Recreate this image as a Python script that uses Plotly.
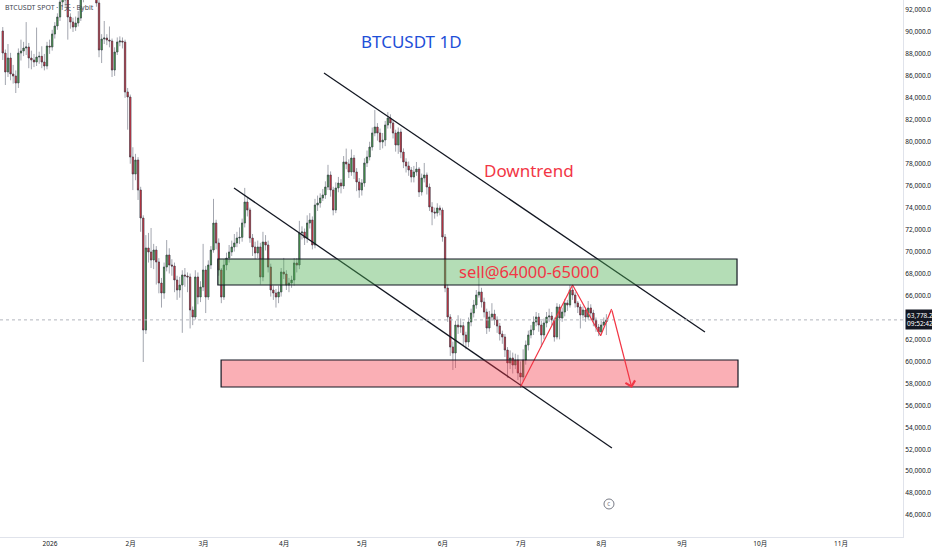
import pandas as pd
import plotly.graph_objects as go

# Daily BTCUSDT candles, 2025-12-15 .. 2026-08-04
start_date = "2025-12-15"
first_open = 90088

closes = [
    88084, 86354, 87629, 86172, 85990, 85352, 88084, 88266, 88540, 88631, 87629, 87447, 87265, 87720, 87780, 87265, 86900,
    88722, 88631, 89815, 90543, 91363, 92729, 93640, 92911, 91363, 90907,
    90452, 90816, 91272, 93093, 94732, 95643, 95188, 96100, 95643, 92638,
    88357, 89359, 89450, 89268, 89177, 86536, 88175, 89086, 89177, 89086,
    84533, 84077, 78613, 77065, 78340, 75608, 73058, 62858, 70326, 69961,
    69233, 70143, 69051, 67138, 66227, 68595, 69688, 68777, 68686, 67411,
    66501, 66956, 67867, 67776, 67685, 64679, 64042, 67685, 65863, 66774,
    68322, 65863, 68777, 70143, 72602, 70781, 68322, 65863, 68777, 69415,
    69961, 70417, 70781, 71236, 71300, 72602, 74515, 73786, 71236, 70417,
    69870, 70417, 67685, 70872, 70600, 68595, 66501, 66227, 65863, 66319,
    68140, 67958, 66956, 67138, 67411, 68960, 68777, 71692, 71783, 71236,
    72602, 72876, 70600, 74242, 74424, 74879, 75153, 75881, 76974, 75608,
    73786, 75790, 76245, 75972, 78158, 77976, 77247, 78522, 77247, 76336,
    75608, 76245, 78067, 78613, 79524, 80799, 81345, 80799, 79979, 80160,
    81527, 82165, 81709, 80799, 79706, 80890, 79068, 78158, 77793, 77429,
    76792, 77247, 77520, 75426, 76701, 76974, 75881, 74060, 73604, 73513,
    73969, 73786, 71327, 66683, 64042, 61310, 60763, 63313, 63131, 63250,
    62403, 61765, 63586, 64406, 65135, 66045, 66319, 65408, 64497, 63040,
    64042, 64315, 63769, 63222, 62494, 62221, 61036, 59853, 60308, 59670,
    60125, 58942, 58578, 60125, 61492, 62403, 62858, 63586, 64042, 63313,
    62403, 63495, 64042, 64133, 63769, 62221, 64953, 63951, 64497, 65317,
    65135, 66501, 66045, 65317, 64953, 64224, 64679, 64042, 64862, 64406,
    63769, 63131, 62676, 63313, 63586, 63778.2,
]

highs = [
    90450, 88400, 88900, 88100, 87000, 86500, 88500, 89300, 89100, 90900, 89000, 88300, 88000, 90400, 88200, 88700, 88000,
    89100, 89300, 90200, 90900, 91700, 93100, 94200, 94100, 93000, 91700,
    91300, 91400, 91900, 93600, 95300, 96300, 96400, 96800, 96500, 95900,
    92900, 89800, 91000, 89800, 90500, 89400, 88600, 89500, 89600, 89500,
    89300, 84900, 84300, 79500, 78900, 78600, 75900, 73300, 71500, 71700,
    72150, 70700, 70500, 69400, 67600, 69000, 71050, 70300, 69300, 69000,
    67800, 67700, 68300, 68500, 68100, 68000, 65000, 68300, 68100, 67300,
    70700, 68700, 69200, 70500, 74800, 72900, 71200, 68500, 69300, 69900,
    70600, 71000, 71600, 71800, 72200, 73000, 75800, 74900, 74000, 71600,
    70900, 71000, 70800, 71800, 71500, 71000, 68900, 66900, 66600, 66900,
    68500, 69420, 68300, 67600, 67800, 69400, 69400, 72800, 72300, 72100,
    73300, 73500, 73200, 74800, 75100, 75300, 75700, 76400, 77900, 77300,
    75900, 76300, 76800, 76600, 78700, 79380, 78400, 79300, 78800, 77600,
    76700, 76600, 78500, 79200, 80000, 81300, 82900, 81700, 81200, 80800,
    81900, 82700, 82500, 82000, 81100, 81300, 81200, 79400, 78500, 78200,
    77700, 77800, 78160, 77700, 77100, 78070, 77200, 76200, 74500, 74000,
    74400, 74200, 74000, 71600, 67000, 64300, 61800, 63700, 64200, 63900,
    63600, 62700, 64000, 64800, 65600, 66500, 68050, 66700, 65800, 64800,
    64600, 65300, 64700, 64100, 63500, 62800, 62500, 61300, 61000, 60800,
    60700, 60600, 60000, 61100, 61900, 62800, 63300, 64100, 64500, 64400,
    63700, 63900, 64500, 64800, 64500, 64000, 65300, 65200, 64900, 65700,
    65600, 66950, 66800, 66300, 65500, 65200, 65000, 64900, 65500, 65200,
    64700, 64000, 63400, 63700, 64000, 64300,
]

lows = [
    87450, 85170, 85900, 85600, 85300, 84440, 84900, 87400, 87800, 87900, 86700, 86600, 86800, 86900, 87100, 86700, 86500,
    86600, 88000, 88300, 89400, 90200, 91000, 92300, 92300, 89300, 90300,
    90000, 90100, 90500, 91000, 92700, 94300, 94700, 94900, 94800, 92300,
    87700, 87170, 88900, 88800, 88600, 85900, 86000, 87900, 88700, 88500,
    84000, 81100, 78000, 75600, 76500, 74700, 71800, 59944, 62500, 69000,
    68500, 68400, 67000, 66200, 64900, 65700, 68200, 68000, 67800, 66300,
    65600, 65800, 62600, 66800, 66300, 63000, 63300, 63800, 65200, 65400,
    66400, 64400, 65600, 68400, 69900, 70200, 67800, 65300, 65600, 68300,
    69000, 69600, 70000, 70400, 70700, 70900, 72200, 73200, 70800, 69600,
    69300, 69400, 67000, 67300, 70100, 68100, 65900, 65600, 64900, 65300,
    65900, 67500, 66500, 66300, 66700, 66900, 68100, 68400, 71100, 70600,
    70800, 72100, 70200, 70300, 73700, 74000, 74600, 74800, 75600, 75000,
    73300, 73500, 75400, 75300, 75700, 77500, 76700, 76900, 76600, 75500,
    74900, 75100, 75900, 77700, 78300, 79200, 80500, 80100, 79250, 79400,
    79600, 81200, 81200, 80300, 79100, 78900, 78500, 77600, 77200, 76900,
    76300, 76300, 76900, 74970, 75100, 76300, 75200, 73700, 72400, 73000,
    73200, 73300, 70900, 66300, 63600, 60500, 59220, 59400, 62500, 62600,
    61500, 61100, 61300, 63200, 64000, 64800, 65800, 64900, 64000, 62500,
    62700, 63700, 63300, 62600, 61900, 61600, 60400, 58500, 59300, 58900,
    59300, 58300, 57600, 58200, 59700, 61000, 62100, 62400, 63200, 62700,
    61300, 62000, 63100, 63600, 63300, 61800, 62000, 62000, 63600, 64100,
    64600, 64900, 65600, 64900, 64400, 63000, 63900, 63600, 63800, 64000,
    63200, 62700, 62300, 62500, 63200, 62400,
]

# each bar opens where the previous one closed
opens = [first_open] + closes[:-1]
dates = pd.date_range(start=start_date, periods=len(closes), freq="D")

last_price = closes[-1]
last_price_text = "63,778.2<br>09:52:42"

# Drawings
sell_zone = [66955, 69323]
sell_zone_dates = ["2026-03-07 16:00", "2026-09-23 05:00"]
buy_zone = [57667, 60125]
buy_zone_dates = ["2026-03-08 22:00", "2026-09-23 14:00"]

upper_line_dates = ["2026-04-17 11:00", "2026-09-10 21:00"]
upper_line_prices = [86263, 62676]
lower_line_dates = ["2026-03-13 21:00", "2026-08-06 03:00"]
lower_line_prices = [75790, 52112]

path_dates = ["2026-07-02", "2026-07-22", "2026-08-01 19:00", "2026-08-06"]
path_prices = [57694, 66955, 62338, 64770]
arrow_tip_date = "2026-08-13 19:00"
arrow_tip_price = 57576

month_ticks = ["2026-01-01", "2026-02-01", "2026-03-01", "2026-04-01", "2026-05-01", "2026-06-01",
               "2026-07-01", "2026-08-01", "2026-09-01", "2026-10-01", "2026-11-01"]
month_labels = ["2026", "2月", "3月", "4月", "5月", "6月", "7月", "8月", "9月", "10月", "11月"]

# price scale labels (64,000 sits under the last-price tag)
price_ticks = [46000, 48000, 50000, 52000, 54000, 56000, 58000, 60000, 62000, 66000, 68000,
               70000, 72000, 74000, 76000, 78000, 80000, 82000, 84000, 86000, 88000, 90000, 92000]

x_range = ["2025-12-13 22:30", "2026-11-26 00:00"]
y_range = [44006, 92911]

GREEN = "#4caf50"
RED = "#f23645"
FONT = "Noto Sans, Noto Sans CJK SC, DejaVu Sans, sans-serif"

fig = go.Figure()

# wicks (gray), bodies drawn again on top with a dark outline
fig.add_trace(go.Candlestick(
    x=dates, open=opens, high=highs, low=lows, close=closes,
    increasing=dict(line=dict(color="#a3a6af", width=1), fillcolor=GREEN),
    decreasing=dict(line=dict(color="#a3a6af", width=1), fillcolor=RED),
    whiskerwidth=0, hoverinfo="skip", showlegend=False,
))
body_top = [max(o, c) for o, c in zip(opens, closes)]
body_bottom = [min(o, c) for o, c in zip(opens, closes)]
fig.add_trace(go.Candlestick(
    x=dates, open=opens, high=body_top, low=body_bottom, close=closes,
    increasing=dict(line=dict(color="#2a2e39", width=0.5), fillcolor=GREEN),
    decreasing=dict(line=dict(color="#2a2e39", width=0.5), fillcolor=RED),
    whiskerwidth=0, showlegend=False,
))

# channel lines
for xs, ys in [(upper_line_dates, upper_line_prices), (lower_line_dates, lower_line_prices)]:
    fig.add_trace(go.Scatter(x=xs, y=ys, mode="lines", line=dict(color="#131722", width=1.3),
                             hoverinfo="skip", showlegend=False))

# projected path
fig.add_trace(go.Scatter(x=path_dates, y=path_prices, mode="lines", line=dict(color=RED, width=1.2),
                         hoverinfo="skip", showlegend=False))
fig.add_annotation(x=arrow_tip_date, y=arrow_tip_price, ax=path_dates[-1], ay=path_prices[-1],
                   xref="x", yref="y", axref="x", ayref="y", text="", showarrow=True,
                   arrowhead=4, arrowsize=1.6, arrowwidth=1.2, arrowcolor=RED, standoff=0)

# zones
fig.add_shape(type="rect", xref="x", yref="y", x0=sell_zone_dates[0], x1=sell_zone_dates[1],
              y0=sell_zone[0], y1=sell_zone[1], fillcolor="rgba(76,175,80,0.42)",
              line=dict(color="#131722", width=1.2), layer="above")
fig.add_shape(type="rect", xref="x", yref="y", x0=buy_zone_dates[0], x1=buy_zone_dates[1],
              y0=buy_zone[0], y1=buy_zone[1], fillcolor="rgba(242,54,69,0.4)",
              line=dict(color="#131722", width=1.2), layer="above")

# last price line + label
fig.add_shape(type="line", xref="paper", yref="y", x0=0, x1=1, y0=last_price, y1=last_price,
              line=dict(color="#b2b5be", width=1, dash="dot"))
fig.add_annotation(xref="paper", yref="y", x=1.002, y=last_price, xanchor="left", yanchor="middle",
                   text=last_price_text, showarrow=False, bgcolor="#131722", borderpad=1,
                   font=dict(family=FONT, size=6.5, color="white"), align="left")

# event marker near the time axis
fig.add_shape(type="circle", xref="x", yref="y", xsizemode="pixel", ysizemode="pixel",
              xanchor="2026-08-05", yanchor=47012, x0=-5, x1=5, y0=-5, y1=5,
              line=dict(color="#787b86", width=1), fillcolor="white")
fig.add_annotation(x="2026-08-05", y=47012, text="¢", showarrow=False,
                   font=dict(family=FONT, size=6, color="#787b86"))

# texts
fig.add_annotation(xref="paper", yref="paper", x=0.456, y=0.922, xanchor="center", yanchor="middle",
                   text="BTCUSDT 1D", showarrow=False,
                   font=dict(family=FONT, size=17, color="#1e4fd8"))
fig.add_annotation(xref="paper", yref="paper", x=0.586, y=0.6816, xanchor="center", yanchor="middle",
                   text="Downtrend", showarrow=False,
                   font=dict(family=FONT, size=17, color=RED))
fig.add_annotation(xref="paper", yref="paper", x=0.586, y=0.4935, xanchor="center", yanchor="middle",
                   text="sell@64000-65000", showarrow=False,
                   font=dict(family=FONT, size=16.5, color=RED))
fig.add_annotation(xref="paper", yref="paper", x=0.003, y=0.986, xanchor="left", yanchor="middle",
                   text="BTCUSDT SPOT · 1天 · Bybit", showarrow=False,
                   font=dict(family=FONT, size=7, color="#434651"))

fig.update_layout(
    width=932, height=550,
    margin=dict(l=0, r=29, t=0, b=13),
    paper_bgcolor="white", plot_bgcolor="white",
    showlegend=False,
    font=dict(family=FONT, size=7, color="#131722"),
    xaxis=dict(
        type="date", range=x_range, rangeslider=dict(visible=False),
        tickvals=month_ticks, ticktext=month_labels, ticks="", ticklabelshift=3,
        showgrid=False, zeroline=False, showline=True, linecolor="#e0e3eb", linewidth=1,
        tickfont=dict(size=6.5, color="#131722"),
    ),
    yaxis=dict(
        side="right", range=y_range, tickvals=price_ticks, tickformat=",.1f", ticks="",
        showgrid=False, zeroline=False, showline=True, linecolor="#e0e3eb", linewidth=1,
        tickfont=dict(size=6.5, color="#131722"),
    ),
)

fig.write_html("out.html", config={"displayModeBar": False},
               post_script="document.body.style.margin='0';")
